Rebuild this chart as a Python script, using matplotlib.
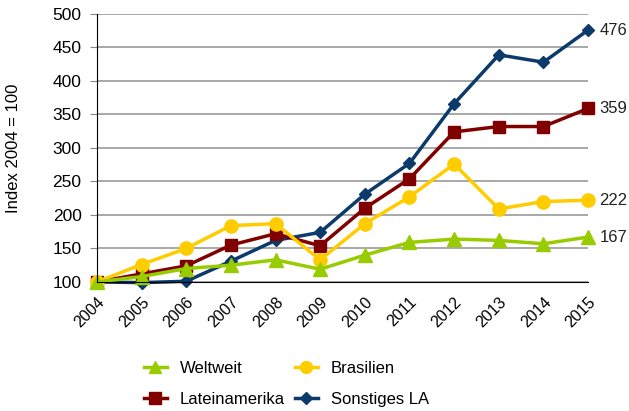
import matplotlib
matplotlib.use("Agg")

import matplotlib.pyplot as plt

plt.rcParams['font.family'] = ['Liberation Sans', 'DejaVu Sans']

# Jahre und Indexwerte (2004 = 100)
years = [2004, 2005, 2006, 2007, 2008, 2009, 2010, 2011, 2012, 2013, 2014, 2015]
weltweit = [100, 108, 120, 125, 133, 119, 140, 159, 164, 162, 157, 167]
brasilien = [100, 126, 150, 184, 187, 133, 187, 227, 276, 209, 220, 222]
lateinamerika = [100, 112, 124, 155, 172, 154, 210, 254, 324, 332, 332, 359]
sonstiges = [100, 99, 101, 131, 162, 174, 231, 277, 366, 439, 428, 476]

series = [
    ("Sonstiges LA", sonstiges, "#0b3a6b", "D", 6.5),
    ("Lateinamerika", lateinamerika, "#800000", "s", 9),
    ("Brasilien", brasilien, "#ffcc00", "o", 9.5),
    ("Weltweit", weltweit, "#99cc00", "^", 9.5),
]

fig = plt.figure(figsize=(6.29, 4.11), dpi=100)
ax = fig.add_axes([0.154, 0.314, 0.781, 0.652])

handles = {}
for name, vals, color, marker, ms in series:
    h, = ax.plot(years, vals, color=color, marker=marker, markersize=ms,
                 linewidth=2.5, label=name, clip_on=False)
    handles[name] = h
    # Endwert rechts neben dem letzten Punkt
    ax.text(years[-1] + 0.25, vals[-1], str(vals[-1]), fontsize=12,
            ha='left', va='center', color='#222222')

ax.set_xlim(2004, 2015)
ax.set_ylim(100, 500)
ax.set_yticks(range(100, 501, 50))
ax.set_xticks(years)
ax.set_xticklabels([str(y) for y in years], rotation=45, ha='right',
                   rotation_mode='anchor', fontsize=11.5)
ax.tick_params(axis='y', labelsize=12.5, length=5, color='#888888', pad=6)
ax.tick_params(axis='x', length=0, pad=9)
ax.yaxis.grid(True, color='#999999', linewidth=1.2)
ax.set_axisbelow(True)
for s in ['top', 'right']:
    ax.spines[s].set_visible(False)
ax.spines['left'].set_color('black')
ax.spines['bottom'].set_color('black')
ax.set_ylabel("Index 2004 = 100", fontsize=12)
ax.yaxis.set_label_coords(-0.155, 0.5)

order = ["Weltweit", "Lateinamerika", "Brasilien", "Sonstiges LA"]
fig.legend([handles[n] for n in order], order, ncol=2, frameon=False,
           loc='center', bbox_to_anchor=(0.455, 0.066), fontsize=12,
           handlelength=1.4, handletextpad=0.75, columnspacing=0.6,
           labelspacing=1.0, markerscale=0.9)

fig.savefig("out.png", dpi=100)
plt.close()
